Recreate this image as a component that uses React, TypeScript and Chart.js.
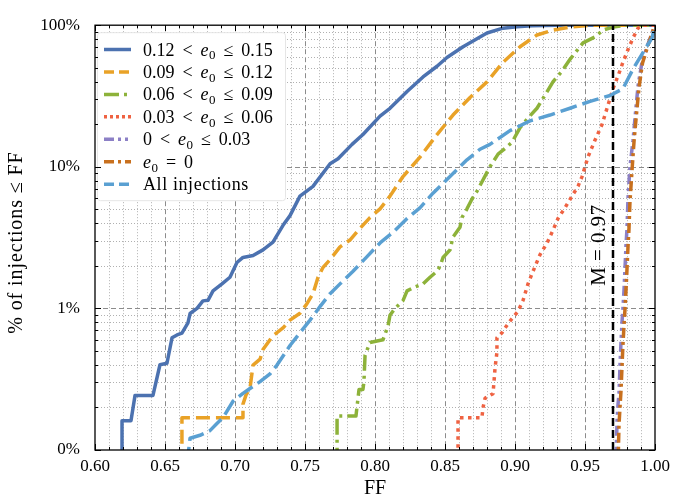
import React, { useEffect, useRef } from 'react';
import { Chart, registerables } from 'chart.js';

Chart.register(...registerables);

const FONT_FAMILY = '"Liberation Serif", "DejaVu Serif", serif';
const TICK_SIZE = 17;
const LEGEND_SIZE = 18;
const TITLE_SIZE = 20;
const NOTE_SIZE = 21;

// Axis ranges
const X_MIN = 0.6;
const X_MAX = 1.0;
const X_MAJOR_STEP = 0.05;
const X_MINOR_STEP = 0.01;
const Y_MIN = 0.1;
const Y_MAX = 100;

const X_TITLE = 'FF';
const Y_TITLE = '% of injections ≤ FF';

// Match threshold
const MATCH_VALUE = 0.97;
const MATCH_LABEL = 'M = 0.97';

// 0.12 < e0 <= 0.15
const ffHigh = [0.6193, 0.6193, 0.6257, 0.6286, 0.6414, 0.6464, 0.6514, 0.655, 0.6586, 0.6621, 0.6664, 0.6679, 0.6729, 0.6771, 0.6807, 0.6843, 0.6907, 0.6964, 0.7014, 0.7057, 0.7129, 0.72, 0.7271, 0.7343, 0.7393, 0.7464, 0.7557, 0.7679, 0.7736, 0.7836, 0.7914, 0.8036, 0.8107, 0.8229, 0.8343, 0.8443, 0.8514, 0.8629, 0.875, 0.88, 0.8914, 0.9014, 0.9121, 0.93, 1.0];
const pctHigh = [0.08, 0.161, 0.161, 0.243, 0.243, 0.40, 0.41, 0.62, 0.65, 0.67, 0.79, 0.92, 1.0, 1.13, 1.14, 1.33, 1.49, 1.66, 2.11, 2.29, 2.36, 2.59, 2.94, 3.86, 4.52, 6.21, 7.28, 10.5, 11.4, 14.4, 16.9, 22.8, 25.9, 34.0, 43.1, 51.3, 59.2, 70.5, 82.6, 88.1, 95.3, 97.5, 99, 100, 100];

// 0.09 < e0 <= 0.12
const ffMidHigh = [0.6621, 0.6621, 0.7057, 0.7057, 0.7079, 0.7107, 0.7129, 0.7179, 0.72, 0.7271, 0.7343, 0.7393, 0.7464, 0.7514, 0.7557, 0.7593, 0.7629, 0.7679, 0.775, 0.7821, 0.7893, 0.7964, 0.8036, 0.8107, 0.82, 0.8321, 0.8443, 0.8557, 0.8679, 0.88, 0.8914, 0.9036, 0.9157, 0.9271, 0.9393, 0.9536, 1.0];
const pctMidHigh = [0.08, 0.169, 0.169, 0.211, 0.245, 0.272, 0.398, 0.438, 0.513, 0.641, 0.728, 0.826, 0.924, 1.08, 1.27, 1.66, 1.95, 2.21, 2.72, 3.04, 3.68, 4.38, 5.05, 6.21, 8.53, 11.7, 16.9, 23.2, 30.9, 39.8, 54.7, 70.5, 85.3, 92.4, 97, 100, 100];

// 0.06 < e0 <= 0.09
const ffMid = [0.7729, 0.7729, 0.7864, 0.7886, 0.7914, 0.7921, 0.7929, 0.7964, 0.8057, 0.8093, 0.8107, 0.8143, 0.82, 0.8229, 0.8286, 0.8343, 0.8393, 0.8443, 0.8464, 0.8486, 0.8536, 0.8557, 0.8607, 0.8621, 0.8657, 0.8693, 0.8729, 0.8821, 0.8879, 0.8914, 0.8979, 0.9036, 0.9093, 0.9157, 0.92, 0.9271, 0.9336, 0.9393, 0.9486, 0.9571, 0.9629, 0.97, 0.9786, 1.0];
const pctMid = [0.08, 0.174, 0.174, 0.268, 0.268, 0.304, 0.467, 0.574, 0.6, 0.751, 0.895, 1.0, 1.135, 1.33, 1.42, 1.49, 1.66, 1.83, 1.98, 2.29, 2.59, 3.19, 3.74, 4.38, 5.05, 5.92, 6.73, 10, 12.3, 13.1, 14.9, 18.9, 22.1, 25.9, 30.4, 39.8, 47.4, 57.4, 75.1, 82.6, 92.4, 97, 100, 100];

// 0.03 < e0 <= 0.06
const ffLowMid = [0.8593, 0.8593, 0.8764, 0.8771, 0.8786, 0.8843, 0.885, 0.8857, 0.8864, 0.8871, 0.8871, 0.8907, 0.8929, 0.8964, 0.9021, 0.9057, 0.9093, 0.9129, 0.9179, 0.9229, 0.9271, 0.9307, 0.9357, 0.9407, 0.945, 0.9479, 0.9521, 0.9571, 0.9621, 0.9664, 0.97, 0.9736, 0.9771, 0.9807, 0.9843, 0.9879, 0.9907, 1.0];
const pctLowMid = [0.08, 0.169, 0.169, 0.198, 0.232, 0.25, 0.304, 0.374, 0.431, 0.49, 0.621, 0.673, 0.728, 0.813, 0.953, 1.135, 1.49, 1.83, 2.40, 2.90, 3.56, 4.31, 5.13, 6.21, 7.28, 8.53, 11.7, 15.4, 19.8, 27.2, 35.6, 43.8, 54.7, 67.2, 81.3, 95.3, 100, 100];

// 0 < e0 <= 0.03
const ffLow = [0.9721, 0.9729, 0.9736, 0.9743, 0.975, 0.9757, 0.9764, 0.9771, 0.9779, 0.9786, 0.9793, 0.98, 0.9807, 0.9821, 0.9843, 0.9857, 0.9879, 0.9907, 0.9943, 0.9979, 1.0];
const pctLow = [0.08, 0.161, 0.211, 0.25, 0.398, 0.574, 0.788, 1.0, 1.37, 1.95, 2.81, 3.68, 5.92, 10, 15.4, 22.1, 37.4, 54.7, 70.5, 88.1, 100];

// e0 = 0
const ffZero = [0.9736, 0.9743, 0.975, 0.9757, 0.9764, 0.9771, 0.9779, 0.9786, 0.9793, 0.98, 0.9807, 0.9814, 0.9821, 0.9836, 0.985, 0.9864, 0.9886, 0.9911, 0.9946, 0.9979, 1.0];
const pctZero = [0.08, 0.15, 0.2, 0.26, 0.38, 0.55, 0.77, 1.0, 1.35, 1.9, 2.7, 3.6, 5.6, 9.5, 15, 21.5, 36.5, 54, 70, 88, 100];

// All injections
const ffAll = [0.6657, 0.6679, 0.675, 0.6821, 0.6871, 0.6914, 0.6986, 0.7057, 0.7107, 0.7179, 0.725, 0.73, 0.7393, 0.7464, 0.7536, 0.7607, 0.7679, 0.775, 0.7843, 0.7943, 0.8036, 0.8129, 0.8229, 0.8321, 0.8414, 0.8514, 0.8657, 0.875, 0.8821, 0.8964, 0.9107, 0.925, 0.9393, 0.9536, 0.9679, 0.9771, 0.9843, 0.9914, 0.9979, 1.0];
const pctAll = [0.08, 0.121, 0.127, 0.137, 0.154, 0.169, 0.221, 0.251, 0.272, 0.304, 0.345, 0.398, 0.547, 0.673, 0.826, 1.03, 1.27, 1.49, 1.83, 2.32, 2.90, 3.45, 4.31, 5.13, 6.51, 8.14, 11.2, 13.3, 14.4, 18.0, 21.1, 23.2, 25.9, 29.0, 31.9, 35.6, 49.0, 64.1, 81.3, 100];

const seriesLabels = [
  '0.12 < e₀ ≤ 0.15',
  '0.09 < e₀ ≤ 0.12',
  '0.06 < e₀ ≤ 0.09',
  '0.03 < e₀ ≤ 0.06',
  '0 < e₀ ≤ 0.03',
  'e₀ = 0',
  'All injections',
];

const SERIES = [
  { ff: ffHigh, pct: pctHigh, color: '#4c72b0', dash: [], legendDash: [], order: 8 },
  { ff: ffMidHigh, pct: pctMidHigh, color: '#e9a227', dash: [14, 6], legendDash: [10, 5], order: 7 },
  { ff: ffMid, pct: pctMid, color: '#8db23a', dash: [16, 5, 3, 5], legendDash: [15, 5, 3, 5], order: 6 },
  { ff: ffLowMid, pct: pctLowMid, color: '#ef6242', dash: [3.5, 4.5], legendDash: [3, 3], order: 5 },
  { ff: ffLow, pct: pctLow, color: '#8c80c6', dash: [10, 4, 3, 4, 3, 4], legendDash: [10, 4, 3, 4, 3, 4], order: 4 },
  { ff: ffZero, pct: pctZero, color: '#c8701e', dash: [10, 4, 3, 4], legendDash: [10, 4, 3, 4], order: 3 },
  { ff: ffAll, pct: pctAll, color: '#5aa0d2', dash: [17, 6], legendDash: [10, 5], order: 1 },
];

function isDecade(v: number) {
  const l = Math.log10(v);
  return Math.abs(l - Math.round(l)) < 1e-6;
}

// Draws a label, typesetting "e₀" as italic e with a subscript zero and
// math-style spacing around relations.
function drawLabel(ctx: CanvasRenderingContext2D, text: string, x: number, y: number, size: number) {
  const normal = `${size}px ${FONT_FAMILY}`;
  if (!text.includes('e₀')) {
    ctx.font = normal;
    (ctx as any).letterSpacing = '0.6px';
    ctx.fillText(text, x, y);
    (ctx as any).letterSpacing = '0px';
    return;
  }
  const gap = size * 0.44;
  const tokens = text.split(' ');
  let cx = x;
  tokens.forEach((tok, i) => {
    if (tok === 'e₀') {
      ctx.font = `italic ${size}px ${FONT_FAMILY}`;
      ctx.fillText('e', cx, y);
      cx += ctx.measureText('e').width + 0.5;
      ctx.font = `${Math.round(size * 0.7)}px ${FONT_FAMILY}`;
      ctx.fillText('0', cx, y + size * 0.22);
      cx += ctx.measureText('0').width;
    } else {
      ctx.font = normal;
      ctx.fillText(tok, cx, y);
      cx += ctx.measureText(tok).width;
    }
    if (i < tokens.length - 1) cx += gap;
  });
}

const gridPlugin = {
  id: 'customGrid',
  beforeDatasetsDraw(chart: any) {
    const { ctx, chartArea: a, scales } = chart;
    const xs = scales.x;
    const ys = scales.y;
    ctx.save();
    ctx.lineWidth = 1;
    const nX = Math.round((X_MAX - X_MIN) / X_MINOR_STEP);
    const perMajor = Math.round(X_MAJOR_STEP / X_MINOR_STEP);
    for (let i = 1; i < nX; i++) {
      const v = X_MIN + i * X_MINOR_STEP;
      const px = Math.round(xs.getPixelForValue(v)) + 0.5;
      const major = i % perMajor === 0;
      ctx.strokeStyle = major ? '#8c8c8c' : '#b0b0b0';
      ctx.setLineDash(major ? [5, 3] : [1, 2]);
      ctx.beginPath();
      ctx.moveTo(px, a.top);
      ctx.lineTo(px, a.bottom);
      ctx.stroke();
    }
    for (let d = Y_MIN; d < Y_MAX * 0.999; d *= 10) {
      for (let k = 1; k <= 9; k++) {
        const v = d * k;
        if (k === 1 && Math.abs(v - Y_MIN) < 1e-9) continue;
        const py = Math.round(ys.getPixelForValue(v)) + 0.5;
        const major = k === 1;
        ctx.strokeStyle = major ? '#8c8c8c' : '#b0b0b0';
        ctx.setLineDash(major ? [5, 3] : [1, 2]);
        ctx.beginPath();
        ctx.moveTo(a.left, py);
        ctx.lineTo(a.right, py);
        ctx.stroke();
      }
    }
    ctx.restore();
  },
  afterDatasetsDraw(chart: any) {
    const { ctx, chartArea: a, scales } = chart;
    const xs = scales.x;
    const ys = scales.y;
    ctx.save();
    ctx.fillStyle = '#000';

    // M label
    const mx = xs.getPixelForValue(MATCH_VALUE);
    ctx.save();
    ctx.translate(mx - 13.5, a.top + 220);
    ctx.rotate(-Math.PI / 2);
    ctx.font = `${NOTE_SIZE}px ${FONT_FAMILY}`;
    ctx.textAlign = 'center';
    ctx.textBaseline = 'middle';
    (ctx as any).letterSpacing = '0.4px';
    ctx.fillText(MATCH_LABEL, 0, 0);
    (ctx as any).letterSpacing = '0px';
    ctx.restore();

    // Axis titles
    ctx.save();
    ctx.font = `${TITLE_SIZE}px ${FONT_FAMILY}`;
    ctx.textAlign = 'center';
    ctx.textBaseline = 'middle';
    ctx.fillText(X_TITLE, (a.left + a.right) / 2, chart.height - 9);
    ctx.translate(17, (a.top + a.bottom) / 2 + 5);
    ctx.rotate(-Math.PI / 2);
    (ctx as any).letterSpacing = '0.9px';
    ctx.fillText(Y_TITLE, 0, 0);
    (ctx as any).letterSpacing = '0px';
    ctx.restore();

    // Legend
    const bx = a.left + 2;
    const by = a.top + 7;
    const bw = 188;
    const bh = 168;
    ctx.fillStyle = '#ffffff';
    ctx.strokeStyle = '#e6e6e6';
    ctx.lineWidth = 1;
    ctx.setLineDash([]);
    ctx.beginPath();
    ctx.roundRect(bx + 0.5, by + 0.5, bw, bh, 3);
    ctx.fill();
    ctx.stroke();
    SERIES.forEach((s, i) => {
      const cy = a.top + 24.3 + i * 22.45;
      ctx.strokeStyle = s.color;
      ctx.lineWidth = 3.5;
      ctx.setLineDash(s.legendDash);
      ctx.lineCap = 'butt';
      ctx.beginPath();
      ctx.moveTo(a.left + 9, cy);
      ctx.lineTo(a.left + 36, cy);
      ctx.stroke();
      ctx.setLineDash([]);
      ctx.fillStyle = '#000';
      ctx.textAlign = 'left';
      ctx.textBaseline = 'alphabetic';
      drawLabel(ctx, seriesLabels[i], a.left + 48, cy + 6, LEGEND_SIZE);
    });

    // Frame
    ctx.setLineDash([]);
    ctx.strokeStyle = '#000';
    ctx.lineWidth = 1.3;
    ctx.strokeRect(a.left, a.top, a.right - a.left, a.bottom - a.top);

    // Inward ticks
    ctx.lineWidth = 1;
    const nX = Math.round((X_MAX - X_MIN) / X_MINOR_STEP);
    const perMajor = Math.round(X_MAJOR_STEP / X_MINOR_STEP);
    for (let i = 0; i <= nX; i++) {
      const v = X_MIN + i * X_MINOR_STEP;
      const px = Math.round(xs.getPixelForValue(v)) + 0.5;
      const len = i % perMajor === 0 ? 6 : 3;
      ctx.beginPath();
      ctx.moveTo(px, a.bottom);
      ctx.lineTo(px, a.bottom - len);
      ctx.moveTo(px, a.top);
      ctx.lineTo(px, a.top + len);
      ctx.stroke();
    }
    for (let d = Y_MIN; d < Y_MAX * 0.999; d *= 10) {
      for (let k = 1; k <= 10; k++) {
        const v = d * k;
        const py = Math.round(ys.getPixelForValue(v)) + 0.5;
        const len = k === 1 || k === 10 ? 6 : 3;
        ctx.beginPath();
        ctx.moveTo(a.left, py);
        ctx.lineTo(a.left + len, py);
        ctx.moveTo(a.right, py);
        ctx.lineTo(a.right - len, py);
        ctx.stroke();
      }
    }
    ctx.restore();
  },
};

export default function App() {
  const canvasRef = useRef<HTMLCanvasElement | null>(null);

  useEffect(() => {
    document.body.style.margin = '0';
    const canvas = canvasRef.current;
    if (!canvas) return;

    const datasets: any[] = SERIES.map((s, i) => ({
      label: seriesLabels[i],
      data: s.ff.map((f, j) => ({ x: f, y: s.pct[j] })),
      borderColor: s.color,
      backgroundColor: s.color,
      borderWidth: 3.5,
      borderDash: s.dash,
      borderCapStyle: 'butt',
      borderJoinStyle: 'round',
      pointRadius: 0,
      tension: 0,
      fill: false,
      order: s.order,
    }));
    datasets.push({
      label: MATCH_LABEL,
      data: [
        { x: MATCH_VALUE, y: Y_MIN },
        { x: MATCH_VALUE, y: Y_MAX },
      ],
      borderColor: '#000',
      borderWidth: 2.5,
      borderDash: [8, 4],
      pointRadius: 0,
      fill: false,
      order: 2,
    });

    const chart = new Chart(canvas, {
      type: 'line',
      data: { datasets },
      plugins: [gridPlugin],
      options: {
        animation: false,
        responsive: true,
        maintainAspectRatio: false,
        layout: { padding: { top: 15, right: 21, left: 0, bottom: 0 } },
        plugins: {
          legend: { display: false },
          tooltip: { enabled: false },
        },
        scales: {
          x: {
            type: 'linear',
            min: X_MIN,
            max: X_MAX,
            grid: { display: false, drawTicks: false },
            border: { display: false },
            ticks: {
              stepSize: X_MAJOR_STEP,
              color: '#000',
              padding: 6,
              font: { family: FONT_FAMILY, size: TICK_SIZE },
              callback: (v: any) => Number(v).toFixed(2),
              maxRotation: 0,
            },
            afterFit: (s: any) => {
              s.height = 48;
            },
          },
          y: {
            type: 'logarithmic',
            min: Y_MIN,
            max: Y_MAX,
            grid: { display: false, drawTicks: false },
            border: { display: false },
            ticks: {
              autoSkip: false,
              color: '#000',
              padding: 15,
              font: { family: FONT_FAMILY, size: TICK_SIZE },
              callback: (v: any) => {
                const n = Number(v);
                if (!isDecade(n)) return '';
                return n < 1 ? '0%' : `${Math.round(n)}%`;
              },
            },
            afterFit: (s: any) => {
              s.width = 95;
            },
          },
        },
      },
    });

    return () => chart.destroy();
  }, []);

  return (
    <div style={{ width: '676px', height: '498px', position: 'relative' }}>
      <canvas ref={canvasRef} />
    </div>
  );
}
